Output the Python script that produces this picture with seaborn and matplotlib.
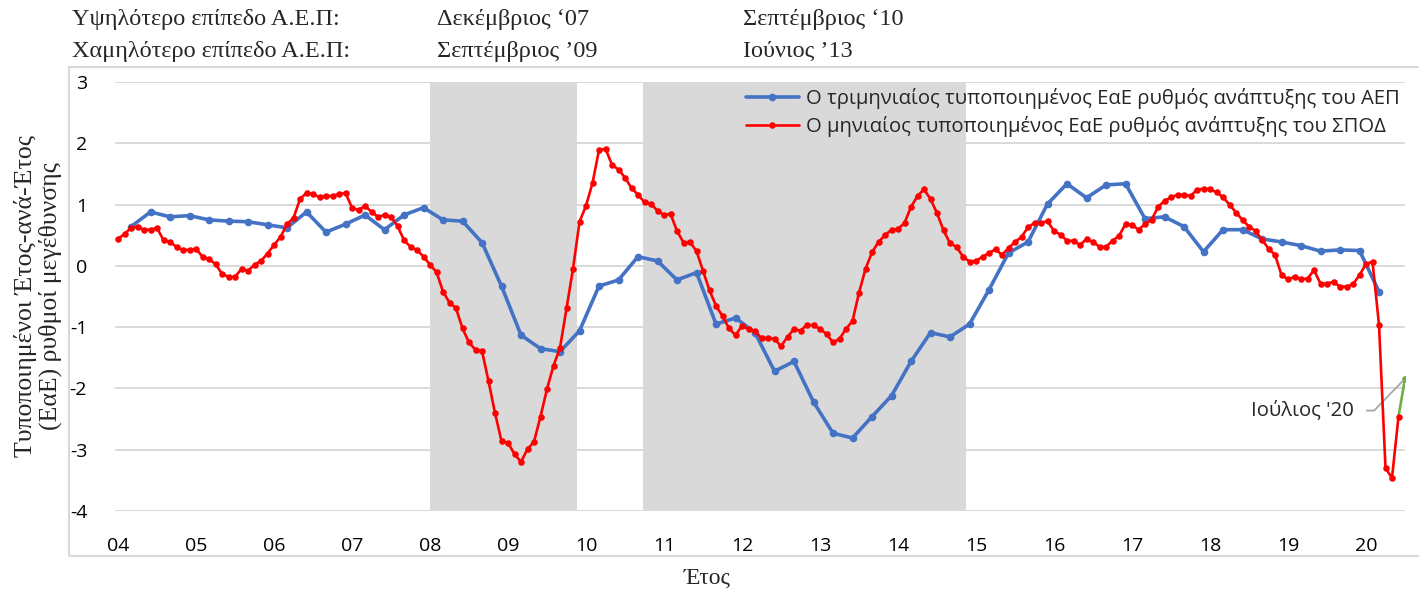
import numpy as np
import pandas as pd
import matplotlib
matplotlib.use("Agg")
import matplotlib.pyplot as plt
import seaborn as sns
from matplotlib.patches import Rectangle

# Τυποποιημένος ΕαΕ ρυθμός ΑΕΠ, τριμηνιαίος: Α' τρίμ. 2004 .. Α' τρίμ. 2020
aep_quarterly = [
    0.64, 0.88, 0.80, 0.82,
    0.75, 0.73, 0.72, 0.67,
    0.62, 0.88, 0.55, 0.68,
    0.83, 0.59, 0.83, 0.95,
    0.75, 0.73, 0.38, -0.33,
    -1.13, -1.35, -1.40, -1.06,
    -0.33, -0.23, 0.15, 0.08,
    -0.23, -0.11, -0.95, -0.85,
    -1.09, -1.72, -1.56, -2.22,
    -2.73, -2.81, -2.46, -2.12,
    -1.56, -1.09, -1.16, -0.95,
    -0.39, 0.21, 0.39, 1.01,
    1.34, 1.11, 1.32, 1.34,
    0.77, 0.80, 0.64, 0.23,
    0.59, 0.59, 0.44, 0.39,
    0.33, 0.24, 0.26, 0.25,
    -0.42,
]

# Τυποποιημένος ΕαΕ ρυθμός ΣΠΟΔ, μηνιαίος: Ιαν. 2004 .. Ιούν. 2020
spod_monthly = [
    0.44, 0.52, 0.62, 0.64, 0.59, 0.59, 0.62, 0.42, 0.39, 0.31, 0.26, 0.26,
    0.28, 0.15, 0.11, 0.03, -0.13, -0.18, -0.18, -0.05, -0.08, 0.02, 0.08, 0.20,
    0.34, 0.47, 0.68, 0.78, 1.09, 1.19, 1.17, 1.12, 1.14, 1.14, 1.17, 1.19,
    0.95, 0.91, 0.98, 0.88, 0.80, 0.83, 0.80, 0.65, 0.42, 0.31, 0.26, 0.15,
    0.02, -0.10, -0.42, -0.60, -0.69, -1.02, -1.25, -1.37, -1.39, -1.88, -2.40, -2.86,
    -2.89, -3.07, -3.20, -2.99, -2.87, -2.46, -2.01, -1.63, -1.34, -0.69, -0.05, 0.72,
    0.98, 1.35, 1.89, 1.91, 1.65, 1.57, 1.44, 1.27, 1.16, 1.04, 1.01, 0.90,
    0.83, 0.85, 0.57, 0.38, 0.39, 0.24, -0.08, -0.40, -0.65, -0.82, -1.02, -1.13,
    -0.98, -1.03, -1.07, -1.18, -1.18, -1.19, -1.31, -1.16, -1.03, -1.06, -0.96, -0.97,
    -1.03, -1.11, -1.25, -1.19, -1.03, -0.90, -0.44, -0.05, 0.22, 0.39, 0.50, 0.59,
    0.60, 0.70, 0.96, 1.14, 1.25, 1.09, 0.86, 0.58, 0.37, 0.31, 0.15, 0.07,
    0.08, 0.15, 0.21, 0.27, 0.18, 0.29, 0.39, 0.47, 0.63, 0.70, 0.70, 0.73,
    0.57, 0.51, 0.41, 0.41, 0.34, 0.44, 0.39, 0.31, 0.31, 0.41, 0.49, 0.68,
    0.67, 0.59, 0.68, 0.75, 0.96, 1.06, 1.12, 1.16, 1.16, 1.14, 1.24, 1.26,
    1.25, 1.20, 1.12, 1.00, 0.87, 0.75, 0.64, 0.57, 0.43, 0.28, 0.18, -0.15,
    -0.22, -0.18, -0.21, -0.21, -0.07, -0.29, -0.29, -0.26, -0.34, -0.34, -0.30, -0.15,
    0.03, 0.07, -0.96, -3.30, -3.46, -2.46,
]
spod_july_2020 = -1.84

# γκρι περίοδοι (σε έτη)
recessions = [(2008.0, 2009.88), (2010.73, 2014.87)]

years = list(range(2004, 2021))
year_labels = [f"{y % 100:02d}" for y in years]

header_rows = [
    ["Υψηλότερο επίπεδο Α.Ε.Π:", "Δεκέμβριος ‘07", "Σεπτέμβριος ‘10"],
    ["Χαμηλότερο επίπεδο Α.Ε.Π:", "Σεπτέμβριος ’09", "Ιούνιος ’13"],
]

label_aep = "Ο τριμηνιαίος τυποποιημένος ΕαΕ ρυθμός ανάπτυξης του ΑΕΠ"
label_spod = "Ο μηνιαίος τυποποιημένος ΕαΕ ρυθμός ανάπτυξης του ΣΠΟΔ"

# --- πίνακες
df_q = pd.DataFrame({"t": 2004 + (2 + 3 * np.arange(len(aep_quarterly))) / 12,
                     "v": aep_quarterly})
df_m = pd.DataFrame({"t": 2004 + np.arange(len(spod_monthly)) / 12,
                     "v": spod_monthly})
df_g = pd.DataFrame({"t": [df_m.t.iloc[-1], df_m.t.iloc[-1] + 1 / 12],
                     "v": [spod_monthly[-1], spod_july_2020]})

sns.set_style("white")
plt.rcParams["font.family"] = ["Open Sans", "DejaVu Sans"]
plt.rcParams["axes.unicode_minus"] = False
serif = ["Liberation Serif", "DejaVu Serif"]

fig = plt.figure(figsize=(14.19, 5.90), dpi=100)
ax = fig.add_axes([115 / 1419, 1 - 511 / 590, (1405 - 115) / 1419, (511 - 82) / 590])

# πλαίσιο γραφήματος
fig.patches.append(Rectangle((69 / 1419, 1 - 556 / 590), 1.0, (556 - 67) / 590,
                             transform=fig.transFigure, fill=False,
                             edgecolor="#D9D9D9", linewidth=1.5, zorder=0))

for a, b in recessions:
    ax.axvspan(a, b, color="#D9D9D9", lw=0, zorder=0.6)

sns.lineplot(data=df_g, x="t", y="v", ax=ax, color="#70AD47", lw=1.9,
             marker="o", markersize=5, markeredgewidth=0, markevery=[1],
             zorder=3, legend=False)
sns.lineplot(data=df_q, x="t", y="v", ax=ax, color="#4472C4", lw=2.6,
             marker="o", markersize=5.5, markeredgewidth=0, label=label_aep, zorder=4)
sns.lineplot(data=df_m, x="t", y="v", ax=ax, color="#FF0000", lw=1.9,
             marker="o", markersize=4.7, markeredgewidth=0, label=label_spod, zorder=5)

ax.set_xlim(2004 - 3 / 78, 2004 + (1405 - 118) / 78)
ax.set_ylim(-4, 3)
ax.set_yticks(range(-4, 4))
ax.set_xticks(years)
ax.set_xticklabels(year_labels)
ax.tick_params(axis="both", length=0, labelsize=14, colors="black")
ax.tick_params(axis="y", pad=20)
ax.tick_params(axis="x", pad=19)
ax.yaxis.grid(True, color="#D9D9D9", lw=1.4)
ax.xaxis.grid(False)
ax.set_axisbelow(True)
for s in ax.spines.values():
    s.set_visible(False)
ax.set_xlabel("")
ax.set_ylabel("")

leg = ax.legend(loc="upper right", bbox_to_anchor=(1.002, 1.005), frameon=False,
                fontsize=14.6, handlelength=2.6, handletextpad=0.35,
                labelspacing=0.35, borderaxespad=0)

ax.annotate("Ιούλιος '20", xy=(df_g.t.iloc[1], spod_july_2020),
            xytext=(-37, -23), textcoords="offset points",
            ha="right", va="center", fontsize=14.6,
            arrowprops=dict(arrowstyle="-", color="#A6A6A6", lw=1.3,
                            relpos=(1, 0.5), shrinkA=7, shrinkB=2,
                            connectionstyle="angle,angleA=0,angleB=46,rad=0"))

# κεφαλίδα
col_x = [72, 437, 743]
row_y = [20, 51]
for r, row in enumerate(header_rows):
    for c, txt in enumerate(row):
        fig.text(col_x[c] / 1419, 1 - row_y[r] / 590, txt, family=serif,
                 fontsize=17.5, ha="left", va="center")

fig.text(38 / 1419, 1 - 296 / 590,
         "Τυποποιημένοι Έτος-ανά-Έτος\n(ΕαΕ) ρυθμοί μεγέθυνσης",
         family=serif, fontsize=18.5, rotation=90, ha="center", va="center",
         linespacing=1.1)
fig.text(707 / 1419, 1 - 578 / 590, "Έτος", family=serif, fontsize=17,
         ha="center", va="center")

fig.savefig("out.png", dpi=100)
